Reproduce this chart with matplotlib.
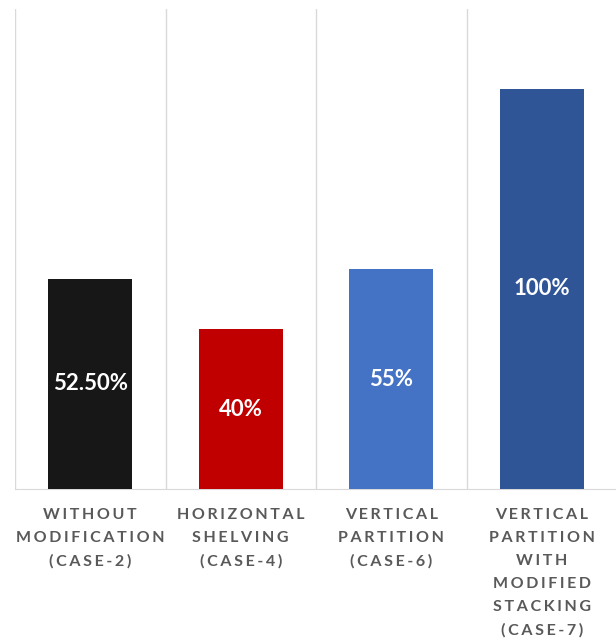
import matplotlib
matplotlib.use('Agg')
import matplotlib.pyplot as plt

# chart data
categories = [
    "WITHOUT\nMODIFICATION\n(CASE-2)",
    "HORIZONTAL\nSHELVING\n(CASE-4)",
    "VERTICAL\nPARTITION\n(CASE-6)",
    "VERTICAL\nPARTITION\nWITH\nMODIFIED\nSTACKING\n(CASE-7)",
]
values = [52.5, 40, 55, 100]
value_labels = ["52.50%", "40%", "55%", "100%"]
bar_colors = ["#171717", "#c00000", "#4472c4", "#2f5597"]


def spaced(text):
    # fake letter spacing with narrow spaces
    return "\n".join("\u2006".join(line) for line in text.split("\n"))


fig = plt.figure(figsize=(6.16, 6.41), dpi=100)
ax = fig.add_axes([15 / 616, 152 / 641, 602 / 616, 480 / 641])

x = list(range(len(values)))
bars = ax.bar(x, values, width=0.56, color=bar_colors, zorder=3)

ax.set_xlim(-0.5, len(values) - 0.5)
ax.set_ylim(0, 120)

# vertical gridlines between categories
for b in range(len(values) + 1):
    ax.axvline(b - 0.5, color="#d9d9d9", lw=1, zorder=1)

for rect, lab in zip(bars, value_labels):
    ax.text(rect.get_x() + rect.get_width() / 2, rect.get_height() / 2, lab,
            ha="center", va="center", color="white", fontsize=16,
            fontweight="bold", family="Lato", zorder=4)

ax.set_xticks(x)
ax.set_xticklabels([spaced(c) for c in categories], fontsize=11.5,
                   fontweight="bold", color="#595959", family=["Lato", "DejaVu Sans"],
                   linespacing=1.8, va="top")
ax.tick_params(axis="x", length=0, pad=14)
ax.set_yticks([])

for s in ["top", "left", "right"]:
    ax.spines[s].set_visible(False)
ax.spines["bottom"].set_color("#d9d9d9")
ax.spines["bottom"].set_zorder(2)

fig.savefig("out.png", dpi=100)
